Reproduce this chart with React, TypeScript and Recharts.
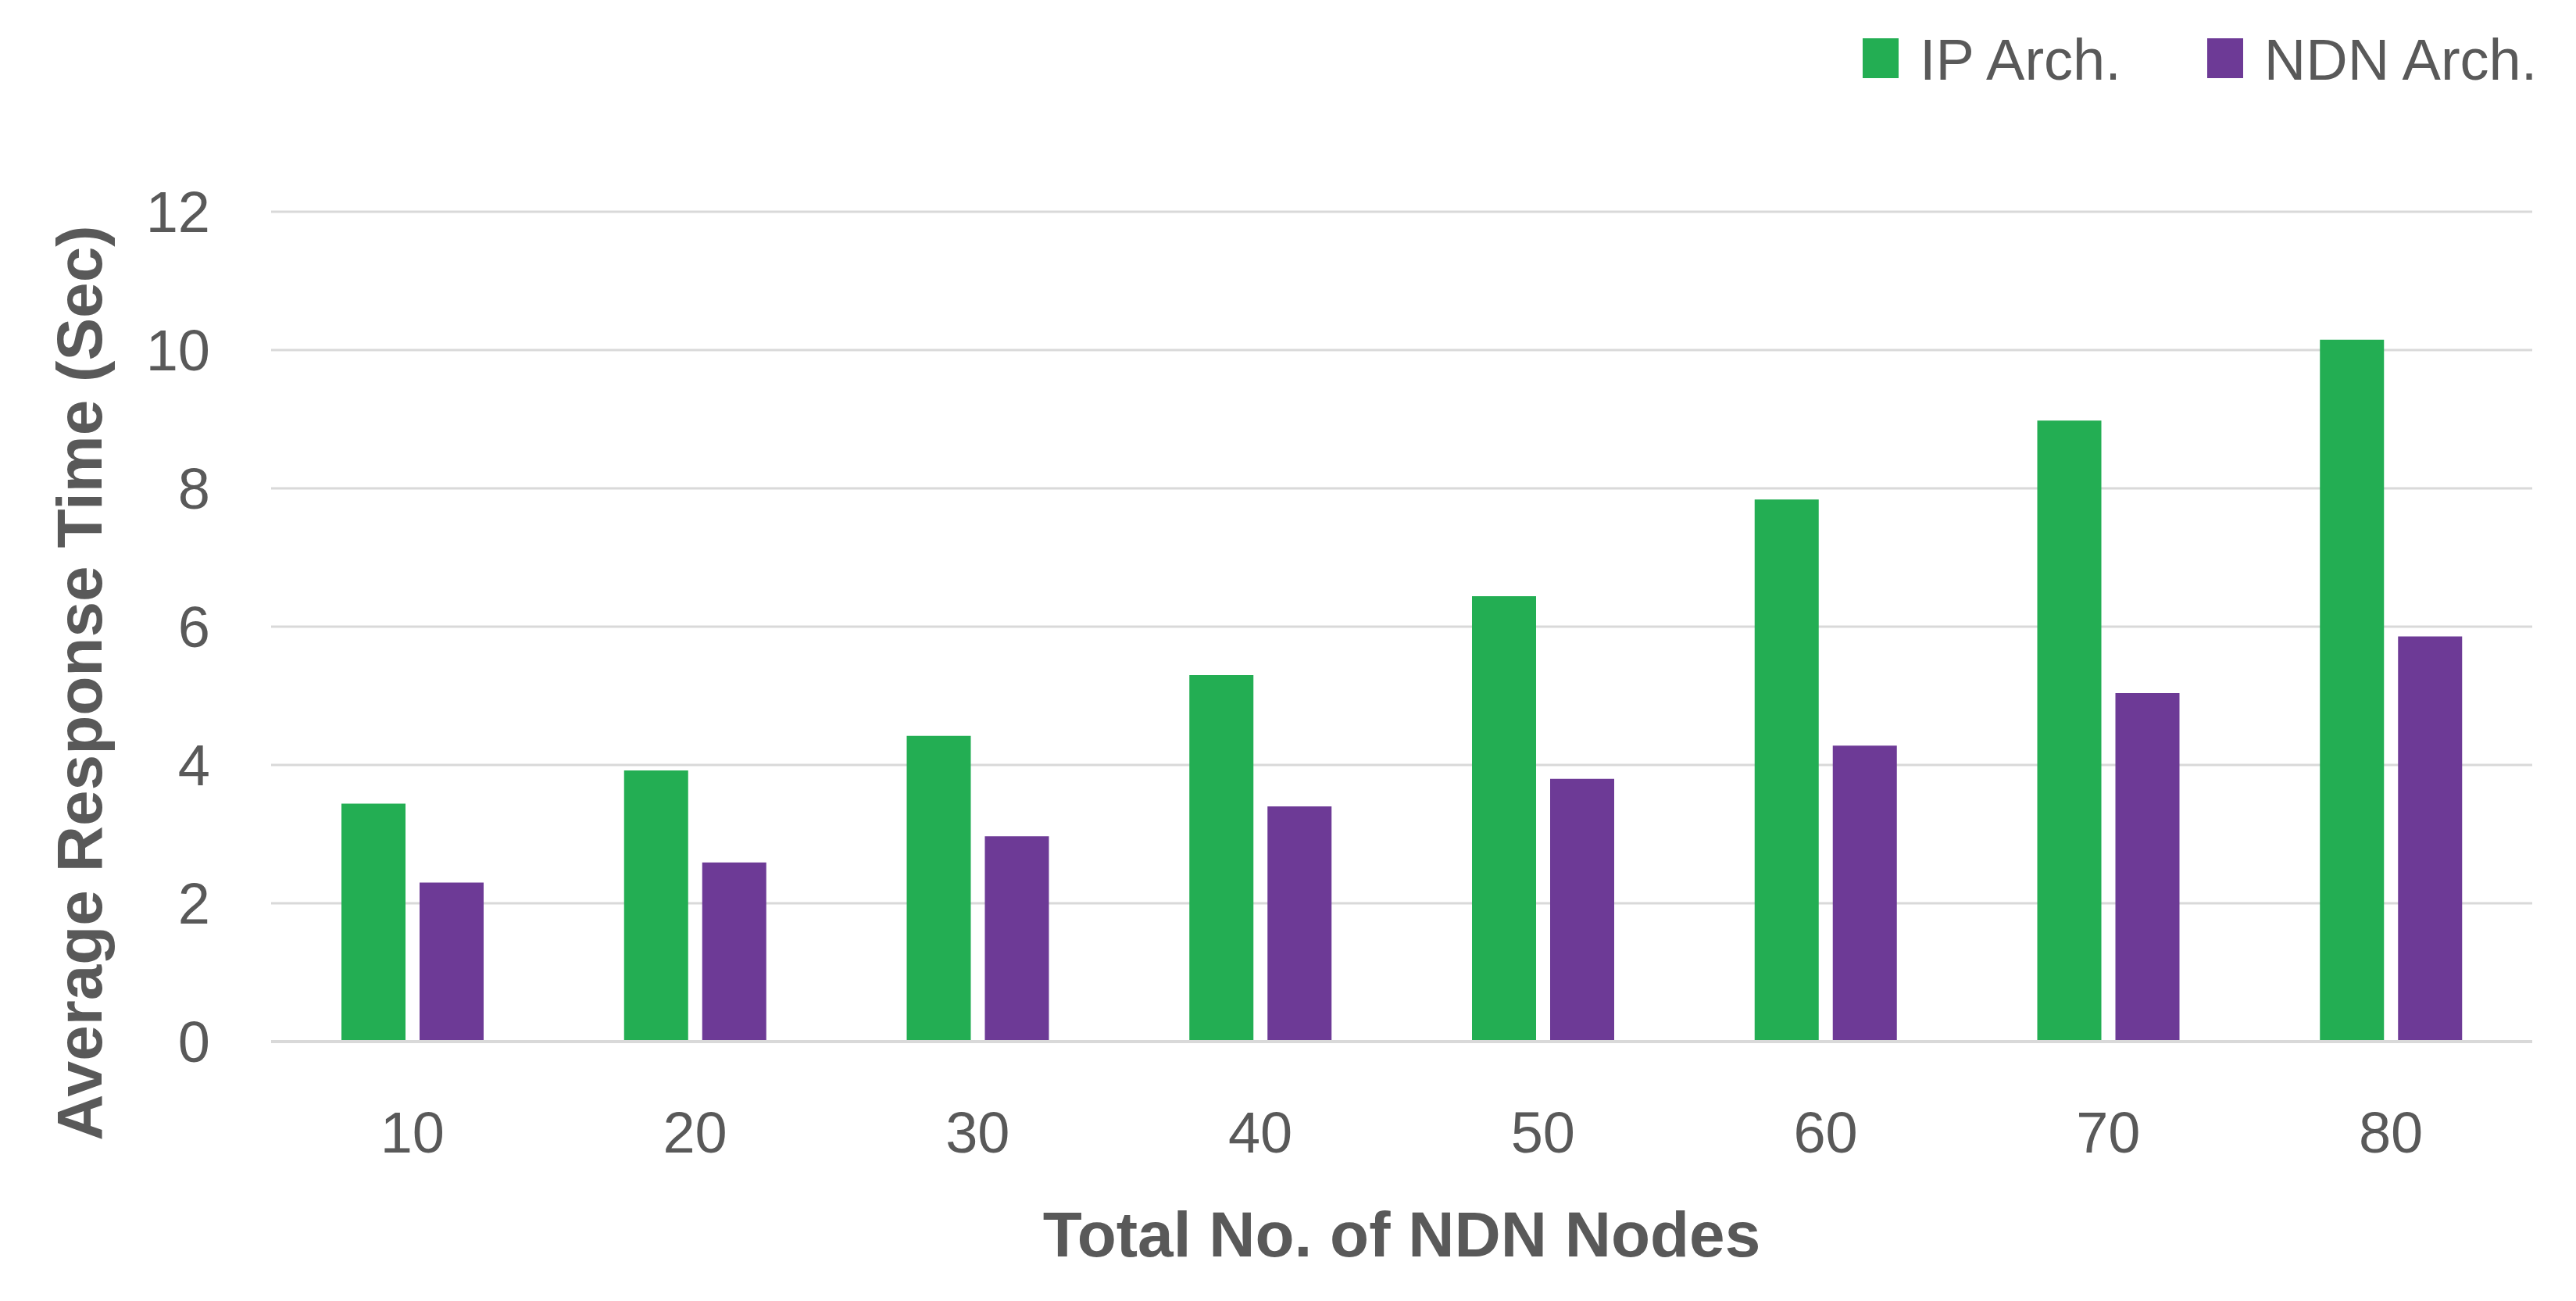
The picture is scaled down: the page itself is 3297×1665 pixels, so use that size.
import React from "react";
import { BarChart, Bar, XAxis, YAxis, CartesianGrid, Legend, Label } from "recharts";

const categories = ["10", "20", "30", "40", "50", "60", "70", "80"];
const ipArch = [3.44, 3.92, 4.42, 5.3, 6.44, 7.84, 8.98, 10.15];
const ndnArch = [2.3, 2.59, 2.97, 3.4, 3.8, 4.28, 5.04, 5.86];
const yTicks = [0, 2, 4, 6, 8, 10, 12];

const seriesInfo = [
  { key: "ip", name: "IP Arch.", color: "#23AE53" },
  { key: "ndn", name: "NDN Arch.", color: "#6D3A96" },
];

const data = categories.map((c, i) => ({ cat: c, ip: ipArch[i], ndn: ndnArch[i] }));

const TEXT = "#595959";
const FONT = "'Liberation Sans', Arial, sans-serif";

const LegendContent = () => (
  <div style={{ display: "flex", alignItems: "flex-end", fontFamily: FONT }}>
    {seriesInfo.map((s, i) => (
      <div key={s.key} style={{ display: "flex", alignItems: "flex-end", marginLeft: i === 0 ? 0 : 110 }}>
        <div style={{ width: 46, height: 51, background: s.color }} />
        <span style={{ marginLeft: 27, fontSize: 74, lineHeight: "74px", color: TEXT, marginBottom: -14 }}>
          {s.name}
        </span>
      </div>
    ))}
  </div>
);

const YTitle = () => (
  <text
    x={130}
    y={874}
    transform="rotate(-90, 130, 874)"
    textAnchor="middle"
    fill={TEXT}
    fontFamily={FONT}
    fontWeight="bold"
    fontSize={82}
  >
    Average Response Time (Sec)
  </text>
);

export default function App() {
  return (
    <div style={{ position: "absolute", left: 0, top: 0, width: 3297, height: 1665, background: "#fff" }}>
      <BarChart
        width={3297}
        height={1665}
        data={data}
        margin={{ top: 271, right: 56, bottom: 0, left: 0 }}
        barGap={18}
        barSize={82}
      >
        <CartesianGrid vertical={false} stroke="#D9D9D9" strokeWidth={3} />
        <XAxis
          dataKey="cat"
          height={332}
          axisLine={{ stroke: "#D9D9D9", strokeWidth: 4 }}
          tickLine={false}
          tickSize={0}
          tickMargin={89}
          tick={{ fill: TEXT, fontSize: 74, fontFamily: FONT }}
        >
          <Label
            value="Total No. of NDN Nodes"
            position="insideTop"
            offset={217}
            fill={TEXT}
            fontFamily={FONT}
            fontWeight="bold"
            fontSize={82}
          />
        </XAxis>
        <YAxis
          width={347}
          domain={[0, 12]}
          ticks={yTicks}
          axisLine={false}
          tickLine={false}
          tickSize={0}
          tickMargin={78}
          tick={{ fill: TEXT, fontSize: 74, fontFamily: FONT }}
        >
          <Label content={<YTitle />} />
        </YAxis>
        <Legend
          layout="horizontal"
          verticalAlign="middle"
          align="center"
          content={<LegendContent />}
          wrapperStyle={{ position: "absolute", left: 2384, top: 40, width: "auto", height: "auto" }}
        />
        {seriesInfo.map((s) => (
          <Bar key={s.key} dataKey={s.key} name={s.name} fill={s.color} isAnimationActive={false} />
        ))}
      </BarChart>
    </div>
  );
}
